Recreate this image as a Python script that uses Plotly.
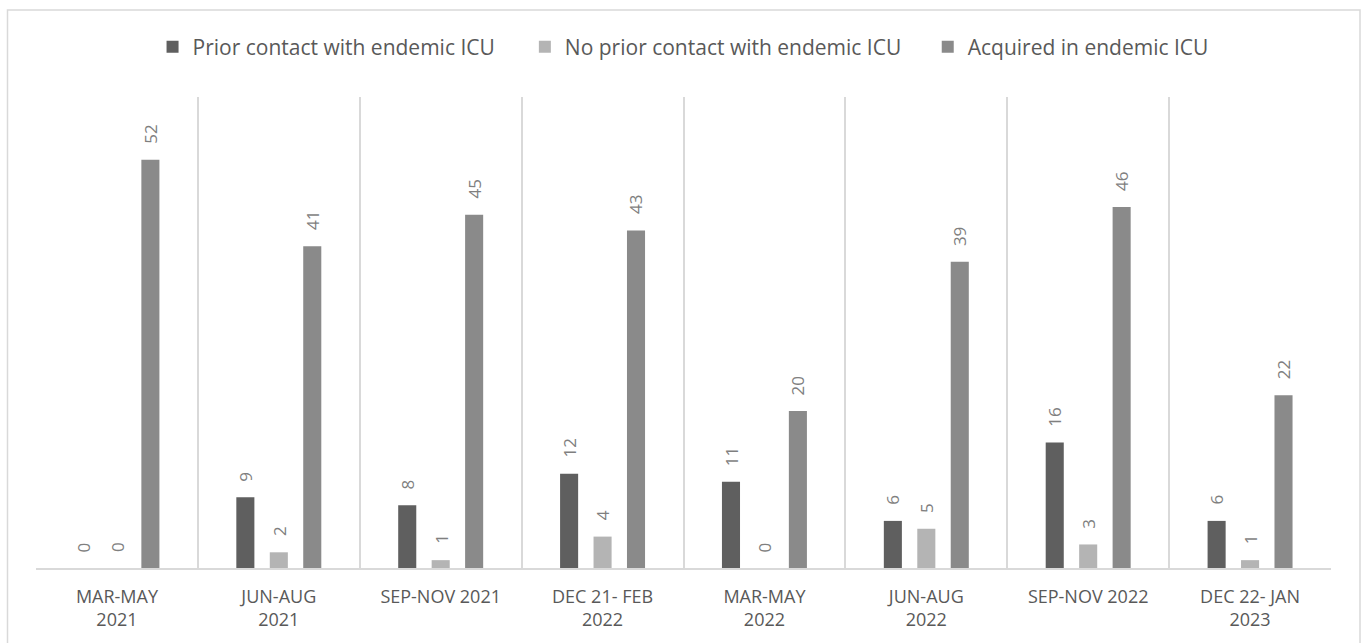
import plotly.graph_objects as go

categories = ["MAR-MAY<br>2021", "JUN-AUG<br>2021", "SEP-NOV 2021", "DEC 21- FEB<br>2022",
              "MAR-MAY<br>2022", "JUN-AUG<br>2022", "SEP-NOV 2022", "DEC 22- JAN<br>2023"]
prior_contact = [0, 9, 8, 12, 11, 6, 16, 6]
no_prior_contact = [0, 2, 1, 4, 0, 5, 3, 1]
acquired = [52, 41, 45, 43, 20, 39, 46, 22]

series = [
    ("Prior contact with endemic ICU", prior_contact, "#5f5f5f"),
    ("No prior contact with endemic ICU", no_prior_contact, "#b4b4b4"),
    ("Acquired in endemic ICU", acquired, "#8a8a8a"),
]

FONT = "Open Sans"
TXT = "#595959"
LBL = "#7f7f7f"

W, H = 1365, 643
ML, MR, MT, MB = 36, 34, 97, 75
BARGAP = 0.38
plot_w = W - ML - MR
plot_h = H - MT - MB
slot = plot_w / len(categories) * (1 - BARGAP) / len(series)

legend_x = [0.090, 0.3775, 0.6886]

fig = go.Figure()
annotations = []
for i, (name, vals, col) in enumerate(series):
    lg = "legend" if i == 0 else f"legend{i+1}"
    fig.add_trace(go.Bar(
        name=name, x=categories, y=vals, marker_color=col, marker_line_width=0,
        legend=lg,
    ))
    for c, v in zip(categories, vals):
        annotations.append(dict(
            x=c, y=v, xref="x", yref="y", text=str(v), textangle=-90, showarrow=False,
            xanchor="center", yanchor="bottom", yshift=14,
            xshift=(i - (len(series) - 1) / 2) * slot,
            font=dict(family=FONT, size=17, color=LBL),
        ))

legend_common = dict(orientation="h", xanchor="left", y=1.106, yanchor="middle",
                     font=dict(family=FONT, size=21, color=TXT), itemwidth=30,
                     bgcolor="rgba(0,0,0,0)")
fig.update_layout(
    width=W, height=H,
    barmode="group", bargap=BARGAP, bargroupgap=0.46,
    paper_bgcolor="white", plot_bgcolor="white",
    margin=dict(l=ML, r=MR, t=MT, b=MB, autoexpand=False),
    font=dict(family=FONT, color=TXT),
    legend=dict(x=legend_x[0], **legend_common),
    legend2=dict(x=legend_x[1], **legend_common),
    legend3=dict(x=legend_x[2], **legend_common),
    annotations=annotations,
    showlegend=True,
)
fig.update_xaxes(type="category", tickson="boundaries", showgrid=True, gridcolor="#d9d9d9",
                 gridwidth=1.5, showline=True, linecolor="#d9d9d9", linewidth=2,
                 ticks="", tickfont=dict(family=FONT, size=18, color=TXT), automargin=False,
                 ticklabelstandoff=11)
fig.update_yaxes(range=[0, 60], showgrid=False, showticklabels=False, zeroline=False,
                 showline=False, ticks="", automargin=False)
fig.add_shape(type="rect", xref="paper", yref="paper",
              x0=(7.5 - ML) / plot_w, x1=(1360 - ML) / plot_w,
              y0=-(655 - (H - MB)) / plot_h, y1=((H - MB) - 10) / plot_h,
              line=dict(color="#d9d9d9", width=1.5), fillcolor="rgba(0,0,0,0)", layer="below")

fig.write_html("out.html", config={"displayModeBar": False},
               post_script="document.body.style.margin='0';document.body.style.overflow='hidden';")
